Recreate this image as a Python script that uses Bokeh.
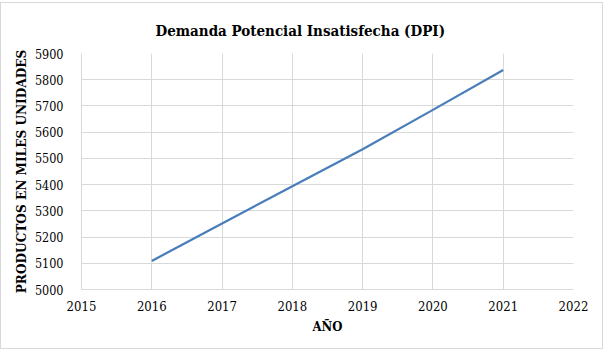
from bokeh.plotting import figure
from bokeh.models import Range1d, FixedTicker
from bokeh.embed import file_html
from bokeh.resources import INLINE

# Demanda potencial insatisfecha por año (miles de unidades)
years = [2016, 2017, 2018, 2019, 2020, 2021]
dpi = [5109, 5252, 5394, 5535, 5685, 5837]

x_ticks = [2015, 2016, 2017, 2018, 2019, 2020, 2021, 2022]
y_ticks = [5000, 5100, 5200, 5300, 5400, 5500, 5600, 5700, 5800, 5900]

FONT = "DejaVu Serif Condensed"
GRID = "#d9d9d9"

p = figure(
    width=603, height=347,
    output_backend="svg", toolbar_location=None,
    x_range=Range1d(2015, 2022), y_range=Range1d(5000, 5900),
    min_border_left=80, min_border_right=31,
    min_border_top=50, min_border_bottom=61,
    title="Demanda Potencial Insatisfecha (DPI)",
)
# marco exterior del gráfico
p.styles = {"border": "1px solid #d9d9d9", "margin-top": "2px"}

p.title.text_font = FONT
p.title.text_font_size = "15px"
p.title.text_font_style = "bold"
p.title.text_color = "#000000"
p.title.align = "left"
p.title.offset = 74
p.title.standoff = 28

p.outline_line_color = None

for ax, ticks in ((p.xaxis, x_ticks), (p.yaxis, y_ticks)):
    ax.ticker = FixedTicker(ticks=ticks)
    ax.major_tick_line_color = None
    ax.minor_tick_line_color = None
    ax.axis_line_color = GRID
    ax.major_label_text_font = FONT
    ax.major_label_text_font_size = "13px"
    ax.major_label_text_color = "#000000"
    ax.axis_label_text_font = FONT
    ax.axis_label_text_font_style = "bold"
    ax.axis_label_text_color = "#000000"

p.xaxis.axis_label = "AÑO"
p.xaxis.axis_label_text_font_size = "13px"
p.xaxis.major_label_standoff = 5
p.xaxis.axis_label_standoff = 5

p.yaxis.axis_label = "PRODUCTOS EN MILES UNIDADES"
p.yaxis.axis_label_text_font_size = "13.5px"
p.yaxis.major_label_text_font_size = "12.5px"
p.yaxis.major_label_standoff = 12
p.yaxis.axis_label_standoff = 3

p.xgrid.grid_line_color = GRID
p.ygrid.grid_line_color = GRID

p.line(years, dpi, line_color="#4a7ebb", line_width=2.25)

open("out.html", "w").write(file_html(p, INLINE))
